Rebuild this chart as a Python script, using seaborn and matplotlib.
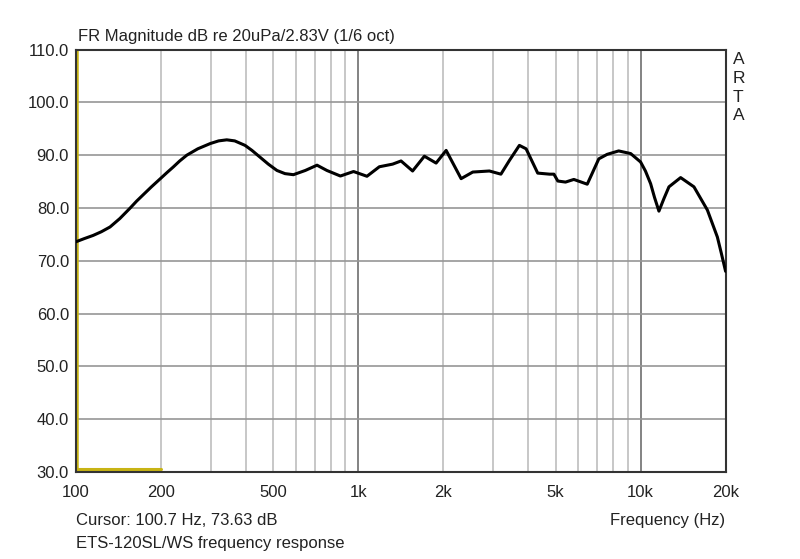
import numpy as np
import pandas as pd
import matplotlib
matplotlib.use("Agg")
import matplotlib.pyplot as plt
import seaborn as sns

# Frequency response
freq_hz = [100, 107, 115, 123, 132, 143, 155, 164, 173, 185, 199, 210, 221, 233, 247,
           270, 299, 320, 342, 365, 397, 420, 449, 480, 515, 550, 589, 649, 714, 774,
           864, 962, 1073, 1187, 1323, 1417, 1557, 1714, 1886, 2047, 2313, 2544, 2913,
           3200, 3430, 3720, 3930, 4320, 4760, 4930, 5090, 5420, 5800, 6470, 7110,
           7610, 8360, 9220, 10000, 10400, 10850, 11200, 11610, 12100, 12600, 13860,
           15450, 17240, 18700, 19300, 20000]
spl_db = [73.6, 74.2, 74.8, 75.5, 76.4, 78.0, 79.9, 81.3, 82.5, 84.0, 85.55, 86.7,
          87.75, 88.9, 90.0, 91.2, 92.2, 92.7, 92.9, 92.7, 91.85, 90.9, 89.6, 88.3,
          87.1, 86.5, 86.3, 87.1, 88.1, 87.1, 86.05, 86.9, 86.0, 87.8, 88.3, 88.9,
          87.0, 89.8, 88.5, 90.9, 85.55, 86.8, 87.0, 86.4, 89.0, 91.85, 91.2, 86.6,
          86.4, 86.4, 85.1, 84.9, 85.4, 84.5, 89.3, 90.15, 90.8, 90.3, 88.7, 87.0,
          84.6, 82.0, 79.4, 81.8, 84.0, 85.75, 84.0, 79.6, 74.5, 71.5, 68.0]

x_ticks = [100, 200, 500, 1000, 2000, 5000, 10000, 20000]
x_labels = ["100", "200", "500", "1k", "2k", "5k", "10k", "20k"]
y_ticks = [30, 40, 50, 60, 70, 80, 90, 100, 110]
minor_lines = [200, 300, 400, 500, 600, 700, 800, 900,
               2000, 3000, 4000, 5000, 6000, 7000, 8000, 9000]
major_lines = [1000, 10000]

df = pd.DataFrame({"freq": freq_hz, "spl": spl_db})

sns.set_style("white")
plt.rcParams["font.family"] = ["Liberation Sans", "DejaVu Sans"]

fig = plt.figure(figsize=(8, 5.59), dpi=100)
ax = fig.add_axes([0.095, 0.1556, 0.812, 0.7558])

# grid
for f in minor_lines:
    ax.axvline(f, color="#bdbdbd", lw=1.2, zorder=1)
for f in major_lines:
    ax.axvline(f, color="#6e6e6e", lw=1.2, zorder=1)
for v in y_ticks:
    ax.axhline(v, color="#969696", lw=1.2, zorder=1)

# cursor marks
ax.axvline(100.7, color="#c8b414", lw=1.8, zorder=2)
ax.plot([100, 200], [30.6, 30.6], color="#c8b414", lw=2.2, zorder=2)

sns.lineplot(data=df, x="freq", y="spl", color="black", lw=2.2, ax=ax, zorder=3)

ax.set_xscale("log")
ax.set_xlim(100, 20000)
ax.set_ylim(30, 110)
ax.set_xticks(x_ticks)
ax.set_xticklabels(x_labels)
ax.xaxis.set_minor_locator(matplotlib.ticker.NullLocator())
ax.set_yticks(y_ticks)
ax.set_yticklabels([f"{v:.1f}" for v in y_ticks])
ax.tick_params(axis="both", length=0, labelsize=12, colors="#222222")
ax.tick_params(axis="x", pad=9)
ax.tick_params(axis="y", pad=5)
ax.set_xlabel("")
ax.set_ylabel("")
for s in ax.spines.values():
    s.set_color("#333333")
    s.set_linewidth(1.5)

fig.text(0.0975, 0.922, "FR Magnitude dB re 20uPa/2.83V (1/6 oct)", fontsize=12,
         color="#222222", ha="left", va="bottom")
fig.text(0.095, 0.069, "Cursor: 100.7 Hz, 73.63 dB", fontsize=12, color="#222222",
         ha="left", va="center")
fig.text(0.095, 0.027, "ETS-120SL/WS frequency response", fontsize=12,
         color="#222222", ha="left", va="center")
fig.text(0.907, 0.069, "Frequency (Hz)", fontsize=12, color="#222222",
         ha="right", va="center")
for i, ch in enumerate("ARTA"):
    fig.text(0.923, 0.893 - i * 0.0335, ch, fontsize=12.5, color="#222222",
             ha="center", va="center")

fig.savefig("out.png", dpi=100)
